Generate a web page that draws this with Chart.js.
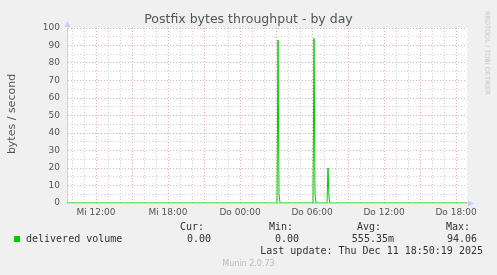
<!DOCTYPE html>
<html>
<head>
<meta charset="utf-8">
<script src="https://cdn.jsdelivr.net/npm/chart.js@4"></script>
<style>
  body { margin: 0; background: #f0f0f0; width: 497px; height: 275px; overflow: hidden; position: relative; font-family: "DejaVu Sans", sans-serif; }
  #wrap { position: absolute; left: 0; top: 0; width: 497px; height: 275px; }
  .t { position: absolute; white-space: pre; line-height: 1; }
  .mono { font-family: "DejaVu Sans Mono", monospace; font-size: 10px; color: #333; }
  .r { text-align: right; }
</style>
</head>
<body>
<div id="wrap"><canvas id="chart"></canvas></div>

<div class="t" style="left:0; width:497px; text-align:center; top:13px; font-size:12.5px; color:#555;">Postfix bytes throughput - by day</div>
<div class="t" style="left:11px; top:114px; font-size:11px; color:#555; transform:translate(-50%,-50%) rotate(-90deg);">bytes / second</div>
<div class="t" style="left:487px; top:53px; font-size:6.5px; color:#c4c4c4; transform:translate(-50%,-50%) rotate(90deg);">RRDTOOL / TOBI OETIKER</div>

<div style="position:absolute; left:14px; top:236px; width:6px; height:6px; background:#00cc00;"></div>
<div class="t mono" style="left:26px; top:234px;">delivered volume</div>
<div class="t mono r" style="right:293px; top:222px;">Cur:</div>
<div class="t mono r" style="right:286px; top:234px;">0.00</div>
<div class="t mono r" style="right:204px; top:222px;">Min:</div>
<div class="t mono r" style="right:198px; top:234px;">0.00</div>
<div class="t mono r" style="right:116px; top:222px;">Avg:</div>
<div class="t mono r" style="right:103px; top:234px;">555.35m</div>
<div class="t mono r" style="right:27px; top:222px;">Max:</div>
<div class="t mono r" style="right:20px; top:234px;">94.06</div>
<div class="t mono r" style="right:14px; top:246px;">Last update: Thu Dec 11 18:50:19 2025</div>
<div class="t" style="left:0; width:497px; text-align:center; top:260px; font-size:8px; color:#bbb;">Munin 2.0.73</div>

<script>
// ================= DATA =================
// 5-minute samples, only the points where the line changes
const times = ["Mi 09:35", "Do 03:05", "Do 03:10", "Do 03:15", "Do 03:20",
               "Do 06:05", "Do 06:10", "Do 06:15", "Do 06:20",
               "Do 07:15", "Do 07:20", "Do 07:25", "Do 07:30", "Do 18:55"];
const volume = [0, 0, 93.2, 5.5, 0,
                0, 94.06, 5, 0,
                0, 20, 3, 0, 0];
const xTickLabels = ["Mi 12:00", "Mi 18:00", "Do 00:00", "Do 06:00", "Do 12:00", "Do 18:00"];
const yTickLabels = [0, 10, 20, 30, 40, 50, 60, 70, 80, 90, 100];

const xStart = "Mi 09:35";
const xEnd = "Do 18:55";

// "Do 03:10" -> minutes since Wednesday 00:00
function toMin(s) {
    let parts = s.split(" ");
    let hm = parts[1].split(":");
    let day = parts[0] === "Do" ? 1440 : 0;
    return day + parseInt(hm[0]) * 60 + parseInt(hm[1]);
}

let labelAt = {};
xTickLabels.forEach(l => labelAt[toMin(l)] = l);

const MAJOR = "#e6abab";
const MINOR = "#d2d2d2";

// ================= PLUGIN: background + axis arrows =================
const muninLook = {
    id: "muninLook",
    beforeDraw(chart) {
        let a = chart.chartArea;
        let ctx = chart.ctx;
        ctx.save();
        ctx.fillStyle = "#ffffff";
        ctx.fillRect(a.left, a.top, a.right - a.left, a.bottom - a.top);
        ctx.restore();
    },
    afterDraw(chart) {
        let a = chart.chartArea;
        let ctx = chart.ctx;
        ctx.save();
        ctx.fillStyle = "#ccccff";
        let x = Math.round(a.left) + 0.5;
        ctx.beginPath();
        ctx.moveTo(x, a.top - 7);
        ctx.lineTo(x - 3, a.top - 1);
        ctx.lineTo(x + 3, a.top - 1);
        ctx.fill();
        let y = Math.round(a.bottom) + 0.5;
        ctx.beginPath();
        ctx.moveTo(a.right + 7, y);
        ctx.lineTo(a.right + 1, y - 3);
        ctx.lineTo(a.right + 1, y + 3);
        ctx.fill();
        ctx.restore();
    }
};

// ================= CHART =================
new Chart(document.getElementById("chart"), {
    type: "line",
    data: {
        datasets: [{
            label: "delivered volume",
            data: times.map((t, i) => ({ x: toMin(t), y: volume[i] })),
            borderColor: "#00cc00",
            borderWidth: 1,
            pointRadius: 0,
            tension: 0,
            fill: false
        }]
    },
    options: {
        responsive: true,
        maintainAspectRatio: false,
        animation: false,
        layout: { padding: { top: 28, right: 30, left: 0, bottom: 0 } },
        plugins: { legend: { display: false }, tooltip: { enabled: false } },
        scales: {
            x: {
                type: "linear",
                min: toMin(xStart),
                max: toMin(xEnd),
                afterBuildTicks: s => {
                    let ticks = [];
                    for (let v = Math.ceil(s.min / 60) * 60; v < s.max; v += 60) ticks.push({ value: v });
                    s.ticks = ticks;
                },
                afterFit: s => { s.height = 72; },
                ticks: {
                    autoSkip: false,
                    maxRotation: 0,
                    padding: 4,
                    color: "#555",
                    font: { family: "DejaVu Sans", size: 9 },
                    callback: v => labelAt[v] || ""
                },
                grid: {
                    drawTicks: false,
                    color: ctx => (ctx.tick && ctx.tick.value % 180 === 0) ? MAJOR : MINOR
                },
                border: { color: "#ccccff", dash: [1, 2] }
            },
            y: {
                min: 0,
                max: 100,
                afterBuildTicks: s => {
                    let ticks = [];
                    for (let v = 0; v <= 100; v += 5) ticks.push({ value: v });
                    s.ticks = ticks;
                },
                afterFit: s => { s.width = 67; },
                ticks: {
                    autoSkip: false,
                    padding: 7,
                    color: "#555",
                    font: { family: "DejaVu Sans", size: 9 },
                    callback: v => yTickLabels.includes(v) ? String(v) : ""
                },
                grid: {
                    drawTicks: false,
                    color: ctx => (ctx.tick && ctx.tick.value % 10 === 0) ? MAJOR : MINOR
                },
                border: { color: "#ccccff", dash: [1, 2] }
            }
        }
    },
    plugins: [muninLook]
});
</script>
</body>
</html>
